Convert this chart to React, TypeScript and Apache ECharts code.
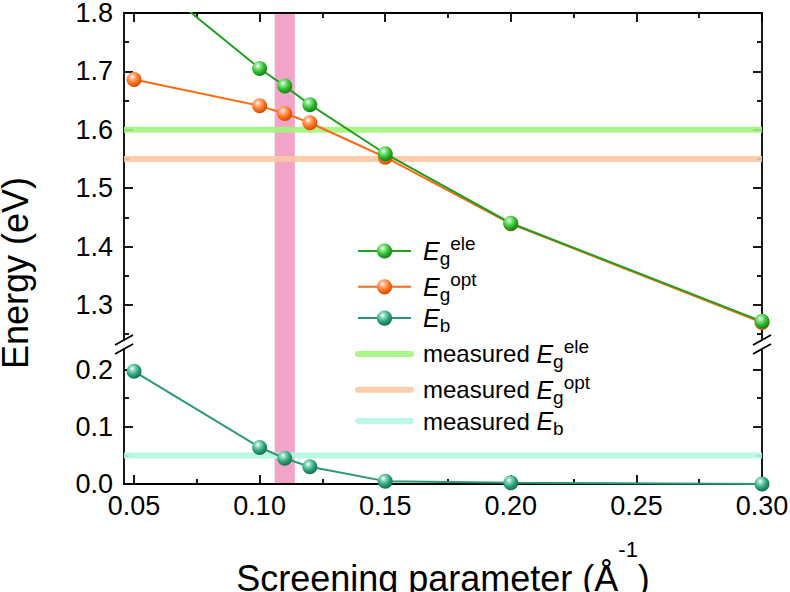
import React, { useEffect, useRef } from 'react';
import * as echarts from 'echarts';

// ---------- data ----------
const screening = [0.05, 0.10, 0.11, 0.12, 0.15, 0.20, 0.30];
const egEle = [1.88, 1.705, 1.675, 1.643, 1.559, 1.440, 1.272];
const egOpt = [1.686, 1.641, 1.628, 1.612, 1.553, 1.439, 1.270];
const eb = [0.197, 0.064, 0.045, 0.030, 0.005, 0.002, 0.0];
const measuredEgEle = 1.60;
const measuredEgOpt = 1.55;
const measuredEb = 0.05;
const bandRange = [0.106, 0.114];

const xRange = [0.046, 0.30];
const topRange = [1.24, 1.8];
const bottomRange = [0, 0.236];
const xMajor = [0.05, 0.10, 0.15, 0.20, 0.25, 0.30];
const xMinor = [0.075, 0.125, 0.175, 0.225, 0.275];
const topMajor = [1.3, 1.4, 1.5, 1.6, 1.7, 1.8];
const topMinor = [1.25, 1.35, 1.45, 1.55, 1.65, 1.75];
const bottomMajor = [0, 0.1, 0.2];
const bottomMinor = [0.05, 0.15];

// ---------- layout / style ----------
const FONT = '"Liberation Sans", Arial, Helvetica, sans-serif';
const W = 790;
const H = 592;
const GL = 124;
const GR = 28;
const TOP_T = 13;
const TOP_B = 340;
const BOT_T = 349;
const BOT_B = 484;
const AXW = 1.8;

const C = {
  ele: '#20a020', eleBall: '#2cb82c', eleLight: '#8fe88f', eleDark: '#137a13',
  opt: '#ff6a14', optBall: '#ff6f1c', optLight: '#ffb58a', optDark: '#c94a00',
  eb: '#26996f', ebBall: '#2aa077', ebLight: '#8fdcc0', ebDark: '#136b4b',
  mEle: '#a3f57c', mOpt: '#fcc9a1', mEb: '#b3f8e6', band: '#f2a4c9',
};

const ball = (base: string, light: string, dark: string) => ({
  type: 'radial', x: 0.38, y: 0.32, r: 0.72,
  colorStops: [
    { offset: 0, color: '#ffffff' },
    { offset: 0.22, color: light },
    { offset: 0.6, color: base },
    { offset: 1, color: dark },
  ],
});

function mkAxis(o: {
  grid: number; position: string; range: number[]; ticks: number[]; len: number;
  line: boolean; labels?: boolean; digits?: number; margin?: number; extra?: any;
}) {
  return {
    type: 'value', gridIndex: o.grid, position: o.position, min: o.range[0], max: o.range[1],
    axisLine: { show: o.line, onZero: false, lineStyle: { color: '#000', width: AXW } },
    axisTick: { show: true, inside: true, length: o.len, customValues: o.ticks, lineStyle: { color: '#000', width: AXW } },
    axisLabel: o.labels
      ? { show: true, customValues: o.ticks, formatter: (v: number) => v.toFixed(o.digits ?? 1), fontSize: 27, color: '#000', fontFamily: FONT, margin: o.margin ?? 10 }
      : { show: false },
    splitLine: { show: false },
    minorTick: { show: false },
    ...(o.extra || {}),
  };
}

const legendText: Record<string, string> = {
  Eg_ele: '{E0|E}{sub|g}{sup|ele}',
  Eg_opt: '{E0|E}{sub|g}{sup|opt}',
  Eb: '{E0|E}{sub|b}',
  mEg_ele: '{m|measured }{E|E}{sub|g}{sup|ele}',
  mEg_opt: '{m|measured }{E|E}{sub|g}{sup|opt}',
  mEb: '{m|measured }{E|E}{sub|b}',
};

const pts = (ys: number[]) => screening.map((x, i) => [x, ys[i]]);
const hline = (v: number) => [[xRange[0], v], [xRange[1], v]];

function breakMarks() {
  const els: any[] = [];
  [GL, W - GR].forEach((x) => {
    [TOP_B, BOT_T].forEach((y) => {
      els.push({
        type: 'line', z: 10,
        shape: { x1: x - 9, y1: y + 5, x2: x + 9, y2: y - 5 },
        style: { stroke: '#000', lineWidth: AXW },
      });
    });
  });
  els.push({
    type: 'text', x: 15, y: 273, rotation: Math.PI / 2, z: 10,
    style: { text: 'Energy (eV)', fontSize: 36, fontFamily: FONT, fill: '#000', align: 'center', verticalAlign: 'middle' },
  });
  return els;
}

const option: any = {
  animation: false,
  backgroundColor: '#fff',
  grid: [
    { left: GL, right: GR, top: TOP_T, height: TOP_B - TOP_T, containLabel: false, outerBoundsMode: 'none' },
    { left: GL, right: GR, top: BOT_T, height: BOT_B - BOT_T, containLabel: false, outerBoundsMode: 'none' },
  ],
  xAxis: [
    mkAxis({ grid: 0, position: 'top', range: xRange, ticks: xMajor, len: 9, line: true }),
    mkAxis({ grid: 0, position: 'top', range: xRange, ticks: xMinor, len: 5, line: false }),
    mkAxis({
      grid: 1, position: 'bottom', range: xRange, ticks: xMajor, len: 9, line: true, labels: true, digits: 2, margin: 8,
      extra: {
        name: 'Screening parameter (Å{s|-1})', nameLocation: 'middle', nameGap: 54,
        nameTextStyle: {
          fontSize: 36, fontFamily: FONT, color: '#000', lineHeight: 80,
          rich: { s: { fontSize: 22, lineHeight: 22, verticalAlign: 'top', fontFamily: FONT, color: '#000' } },
        },
      },
    }),
    mkAxis({ grid: 1, position: 'bottom', range: xRange, ticks: xMinor, len: 5, line: false }),
  ],
  yAxis: [
    mkAxis({ grid: 0, position: 'left', range: topRange, ticks: topMajor, len: 9, line: true, labels: true, margin: 11 }),
    mkAxis({ grid: 0, position: 'left', range: topRange, ticks: topMinor, len: 5, line: false }),
    mkAxis({ grid: 0, position: 'right', range: topRange, ticks: topMajor, len: 9, line: true }),
    mkAxis({ grid: 0, position: 'right', range: topRange, ticks: topMinor, len: 5, line: false }),
    mkAxis({ grid: 1, position: 'left', range: bottomRange, ticks: bottomMajor, len: 9, line: true, labels: true, margin: 11 }),
    mkAxis({ grid: 1, position: 'left', range: bottomRange, ticks: bottomMinor, len: 5, line: false }),
    mkAxis({ grid: 1, position: 'right', range: bottomRange, ticks: bottomMajor, len: 9, line: true }),
    mkAxis({ grid: 1, position: 'right', range: bottomRange, ticks: bottomMinor, len: 5, line: false }),
  ],
  legend: {
    orient: 'vertical', left: 350, top: 229, itemWidth: 53, itemHeight: 19, itemGap: 1.8,
    selectedMode: false,
    formatter: (name: string) => legendText[name] || name,
    textStyle: {
      fontFamily: FONT, color: '#000', fontSize: 24,
      rich: {
        E0: { fontSize: 25, fontStyle: 'italic', lineHeight: 34, padding: [0, 0, 0, 7], fontFamily: FONT, color: '#000' },
        E: { fontSize: 25, fontStyle: 'italic', lineHeight: 34, fontFamily: FONT, color: '#000' },
        m: { fontSize: 24, lineHeight: 34, padding: [0, 0, 0, 7], fontFamily: FONT, color: '#000' },
        sub: { fontSize: 19, lineHeight: 26, verticalAlign: 'bottom', fontFamily: FONT, color: '#000' },
        sup: { fontSize: 19, lineHeight: 12, verticalAlign: 'top', fontFamily: FONT, color: '#000' },
      },
    },
    data: [
      { name: 'Eg_ele' },
      { name: 'Eg_opt' },
      { name: 'Eb' },
      { name: 'mEg_ele', itemStyle: { opacity: 0 }, lineStyle: { width: 6, cap: 'round' } },
      { name: 'mEg_opt', itemStyle: { opacity: 0 }, lineStyle: { width: 6, cap: 'round' } },
      { name: 'mEb', itemStyle: { opacity: 0 }, lineStyle: { width: 6, cap: 'round' } },
    ],
  },
  series: [
    {
      name: 'mEg_ele', type: 'line', xAxisIndex: 0, yAxisIndex: 0, data: hline(measuredEgEle),
      showSymbol: false, symbol: 'none', z: 2, silent: true,
      lineStyle: { color: C.mEle, width: 6, opacity: 0.9 }, itemStyle: { color: C.mEle, opacity: 0 },
    },
    {
      name: 'mEg_opt', type: 'line', xAxisIndex: 0, yAxisIndex: 0, data: hline(measuredEgOpt),
      showSymbol: false, symbol: 'none', z: 2, silent: true,
      lineStyle: { color: C.mOpt, width: 6, opacity: 0.9 }, itemStyle: { color: C.mOpt, opacity: 0 },
    },
    {
      name: 'mEb', type: 'line', xAxisIndex: 2, yAxisIndex: 4, data: hline(measuredEb),
      showSymbol: false, symbol: 'none', z: 2, silent: true,
      lineStyle: { color: C.mEb, width: 6, opacity: 0.9 }, itemStyle: { color: C.mEb, opacity: 0 },
    },
    {
      name: 'Eg_opt', type: 'line', xAxisIndex: 0, yAxisIndex: 0, data: pts(egOpt),
      symbol: 'circle', symbolSize: 15, z: 4,
      lineStyle: { color: C.opt, width: 2 }, itemStyle: { color: ball(C.optBall, C.optLight, C.optDark) },
    },
    {
      name: 'Eg_ele', type: 'line', xAxisIndex: 0, yAxisIndex: 0, data: pts(egEle),
      symbol: 'circle', symbolSize: 15, z: 5,
      lineStyle: { color: C.ele, width: 2 }, itemStyle: { color: ball(C.eleBall, C.eleLight, C.eleDark) },
    },
    {
      name: 'Eb', type: 'line', xAxisIndex: 2, yAxisIndex: 4, data: pts(eb),
      symbol: 'circle', symbolSize: 15, z: 5,
      lineStyle: { color: C.eb, width: 2 }, itemStyle: { color: ball(C.ebBall, C.ebLight, C.ebDark) },
    },
  ],
  graphic: { elements: breakMarks() },
};

export default function App() {
  const ref = useRef<HTMLDivElement>(null);
  useEffect(() => {
    if (!ref.current) return;
    const chart = echarts.init(ref.current, undefined, { renderer: 'svg', width: W, height: H });
    chart.setOption(option);
    const x1 = chart.convertToPixel({ xAxisIndex: 0 } as any, bandRange[0]) as unknown as number;
    const x2 = chart.convertToPixel({ xAxisIndex: 0 } as any, bandRange[1]) as unknown as number;
    const yTop = chart.convertToPixel({ yAxisIndex: 0 } as any, topRange[1]) as unknown as number;
    const yBot = chart.convertToPixel({ yAxisIndex: 4 } as any, bottomRange[0]) as unknown as number;
    chart.setOption({
      graphic: {
        elements: [
          ...breakMarks(),
          {
            type: 'rect', z: 1, silent: true,
            shape: { x: x1, y: yTop + 0.9, width: x2 - x1, height: yBot - yTop - 1.8 },
            style: { fill: C.band },
          },
        ],
      },
    });
    return () => chart.dispose();
  }, []);
  return (
    <div
      ref={ref}
      style={{ position: 'fixed', left: 0, top: 0, width: W, height: H, background: '#fff' }}
    />
  );
}
